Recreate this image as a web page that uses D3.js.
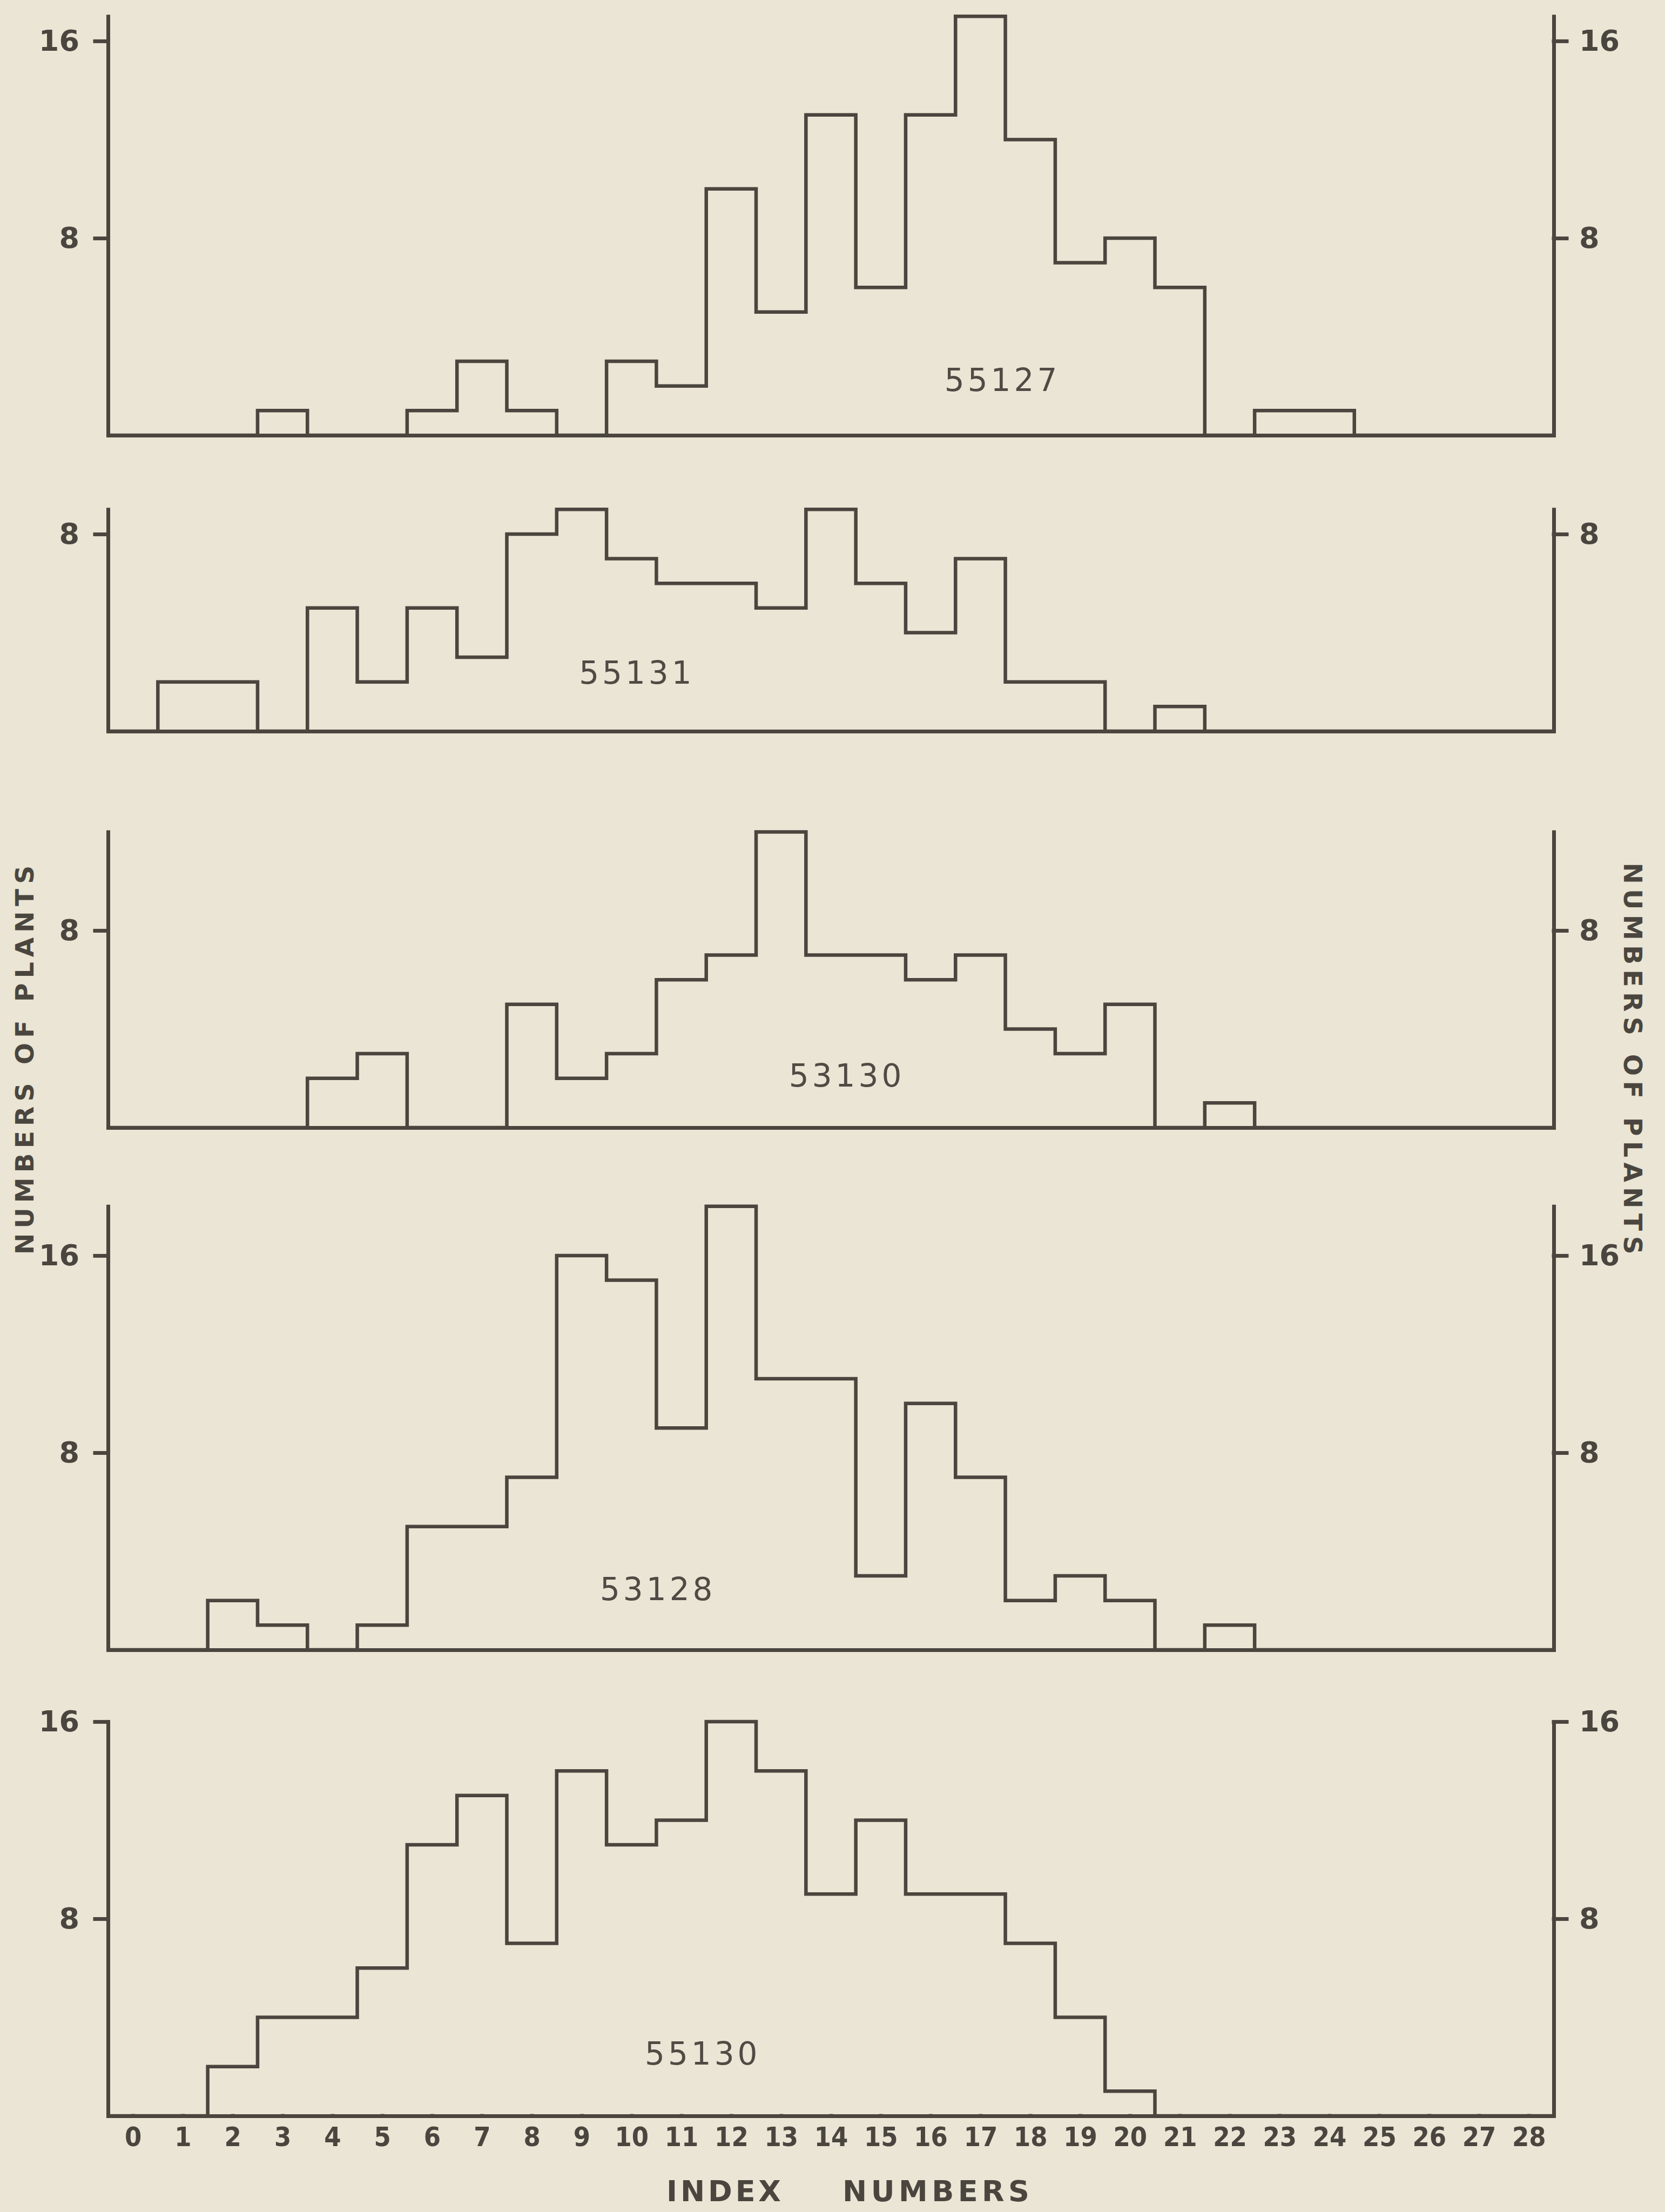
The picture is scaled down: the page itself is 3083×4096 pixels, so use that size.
<!DOCTYPE html>
<html>
<head>
<meta charset="utf-8">
<script src="https://cdn.jsdelivr.net/npm/d3@7"></script>
<style>
body { margin: 0; background: #eae5d4; }
.axis path, .axis line { stroke: #4a453e; stroke-width: 7; stroke-linecap: square; fill: none; }
.axis text { fill: #4a463f; font-family: "DejaVu Sans", sans-serif; font-weight: bold; }
.ylab text { font-size: 54px; }
.xlab text { font-size: 50px; font-family: "DejaVu Sans Condensed", "DejaVu Sans", sans-serif; font-stretch: condensed; }
.hist { fill: none; stroke: #4a453e; stroke-width: 6.5; stroke-linejoin: miter; }
.sample { fill: #4f4b44; font-family: "DejaVu Sans", sans-serif; font-size: 58px; letter-spacing: 6px; }
.title { fill: #4a463f; font-family: "DejaVu Sans", sans-serif; font-weight: bold; }
</style>
</head>
<body>
<script>
// Histograms of index numbers, five progenies

// index numbers on the bottom axis (one bin each)
var indexNumbers = [0, 1, 2, 3, 4, 5, 6, 7, 8, 9, 10, 11, 12, 13, 14, 15, 16, 17, 18, 19, 20, 21, 22, 23, 24, 25, 26, 27, 28];

// numbers of plants per index number
var counts55127 = [0, 0, 0, 1, 0, 0, 1, 3, 1, 0, 3, 2, 10, 5, 13, 6, 13, 17, 12, 7, 8, 6, 0, 1, 1, 0, 0, 0, 0];
var counts55131 = [0, 2, 2, 0, 5, 2, 5, 3, 8, 9, 7, 6, 6, 5, 9, 6, 4, 7, 2, 2, 0, 1, 0, 0, 0, 0, 0, 0, 0];
var counts53130 = [0, 0, 0, 0, 2, 3, 0, 0, 5, 2, 3, 6, 7, 12, 7, 7, 6, 7, 4, 3, 5, 0, 1, 0, 0, 0, 0, 0, 0];
var counts53128 = [0, 0, 2, 1, 0, 1, 5, 5, 7, 16, 15, 9, 18, 11, 11, 3, 10, 7, 2, 3, 2, 0, 1, 0, 0, 0, 0, 0, 0];
var counts55130 = [0, 0, 2, 4, 4, 6, 11, 13, 7, 14, 11, 12, 16, 14, 9, 12, 9, 9, 7, 4, 1, 0, 0, 0, 0, 0, 0, 0, 0];

// progeny names, top to bottom
var sampleNames = ["55127", "55131", "53130", "53128", "55130"];

// y tick labels
var yTickValues = [8, 16];

var seriesList = [counts55127, counts55131, counts53130, counts53128, counts55130];

var w = 3083, h = 4096;
var unit = 45.63; // pixels per plant, same on every panel

// panel layout: baseline in px, top of the axes (in plants), name spot (in data units)
var layout = [
    { base: 806, top: 17, nameX: 17.44, nameY: 2.26 },
    { base: 1354, top: 9, nameX: 10.11, nameY: 2.39 },
    { base: 2088, top: 12, nameX: 14.32, nameY: 2.13 },
    { base: 3055, top: 18, nameX: 10.53, nameY: 2.48 },
    { base: 3918, top: 16, nameX: 11.43, nameY: 2.54 }
];

var svg = d3.select("body")
    .append("svg")
    .attr("width", w)
    .attr("height", h);

// paper
svg.append("rect")
    .attr("width", w)
    .attr("height", h)
    .attr("fill", "#eae5d4");

// x scale shared by all panels, bins centred on the index numbers
var x = d3.scaleLinear()
    .domain([-0.5, 28.5])
    .range([200, 2877]);

var stepLine = d3.line().curve(d3.curveStepAfter);

layout.forEach(function (p, k) {
    var counts = seriesList[k];

    var y = d3.scaleLinear()
        .domain([0, p.top])
        .range([p.base, p.base - p.top * unit]);

    var g = svg.append("g").attr("class", "panel");

    var ticks = yTickValues.filter(function (t) { return t <= p.top; });

    // left axis
    g.append("g")
        .attr("class", "axis ylab")
        .attr("transform", "translate(" + x.range()[0] + ",0)")
        .call(d3.axisLeft(y).tickValues(ticks).tickSize(24).tickSizeOuter(0).tickPadding(29));

    // right axis
    g.append("g")
        .attr("class", "axis ylab")
        .attr("transform", "translate(" + x.range()[1] + ",0)")
        .call(d3.axisRight(y).tickValues(ticks).tickSize(24).tickSizeOuter(0).tickPadding(23));

    // bottom line, labels only on the last panel
    g.append("g")
        .attr("class", "axis xlab")
        .attr("transform", "translate(0," + p.base + ")")
        .call(d3.axisBottom(x)
            .tickValues(k === layout.length - 1 ? indexNumbers : [])
            .tickSize(0)
            .tickSizeOuter(0)
            .tickPadding(20));

    // histogram outline
    var pts = indexNumbers.map(function (d, i) {
        return [x(d - 0.5), y(counts[i])];
    });
    pts.push([x(28.5), y(0)]);

    g.append("path")
        .attr("class", "hist")
        .attr("d", stepLine(pts));

    // progeny name
    g.append("text")
        .attr("class", "sample")
        .attr("text-anchor", "middle")
        .attr("x", x(p.nameX))
        .attr("y", y(p.nameY))
        .attr("dy", "0.36em")
        .text(sampleNames[k]);
});

// bottom title
svg.append("text")
    .attr("class", "title")
    .attr("x", 1234)
    .attr("y", 4076)
    .attr("font-size", 54)
    .attr("textLength", 212)
    .attr("lengthAdjust", "spacing")
    .text("INDEX");

svg.append("text")
    .attr("class", "title")
    .attr("x", 1560)
    .attr("y", 4076)
    .attr("font-size", 54)
    .attr("textLength", 346)
    .attr("lengthAdjust", "spacing")
    .text("NUMBERS");

// side titles
svg.append("text")
    .attr("class", "title")
    .attr("transform", "translate(62,1963) rotate(-90)")
    .attr("text-anchor", "middle")
    .attr("font-size", 47)
    .attr("textLength", 720)
    .attr("lengthAdjust", "spacing")
    .text("NUMBERS OF PLANTS");

svg.append("text")
    .attr("class", "title")
    .attr("transform", "translate(3007,1960) rotate(90)")
    .attr("text-anchor", "middle")
    .attr("font-size", 47)
    .attr("textLength", 725)
    .attr("lengthAdjust", "spacing")
    .text("NUMBERS OF PLANTS");
</script>
</body>
</html>
